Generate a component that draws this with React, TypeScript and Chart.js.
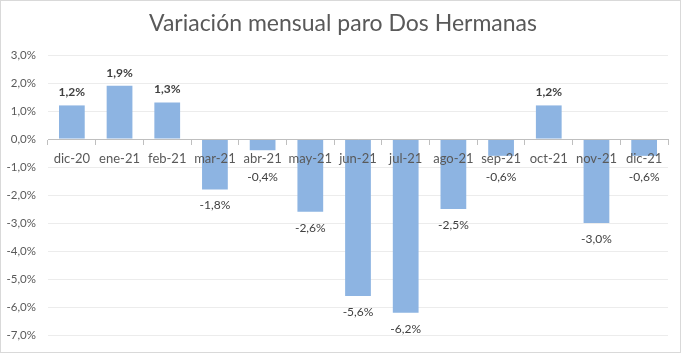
import React, { useEffect, useRef } from "react";
import { Chart, registerables } from "chart.js";

Chart.register(...registerables);

const TITLE = "Variación mensual paro Dos Hermanas";
const categories = ["dic-20", "ene-21", "feb-21", "mar-21", "abr-21", "may-21", "jun-21", "jul-21", "ago-21", "sep-21", "oct-21", "nov-21", "dic-21"];
const values = [1.2, 1.9, 1.3, -1.8, -0.4, -2.6, -5.6, -6.2, -2.5, -0.6, 1.2, -3.0, -0.6];
const yMin = -7;
const yMax = 3;
const yStep = 1;

const FONT = "Lato, 'Open Sans', sans-serif";
const fmt = (v: number) => v.toFixed(1).replace(".", ",") + "%";

const frame = {
  id: "frame",
  beforeDraw(chart: any) {
    const ctx = chart.ctx;
    ctx.save();
    ctx.fillStyle = "#ffffff";
    ctx.fillRect(0, 0, chart.width, chart.height);
    ctx.strokeStyle = "#d9d9d9";
    ctx.lineWidth = 1;
    ctx.strokeRect(0.5, 0.5, chart.width - 2, chart.height - 2);
    ctx.fillStyle = "#595959";
    ctx.font = "23px " + FONT;
    ctx.textAlign = "center";
    ctx.textBaseline = "middle";
    ctx.fillText(TITLE, chart.width / 2 + 2, 24);
    ctx.restore();
  },
};

const labels = {
  id: "valueLabels",
  afterDatasetsDraw(chart: any) {
    const ctx = chart.ctx;
    const meta = chart.getDatasetMeta(0);
    const yScale = chart.scales.y;
    const zeroY = yScale.getPixelForValue(0);
    ctx.save();
    ctx.textAlign = "center";
    ctx.textBaseline = "middle";
    meta.data.forEach((bar: any, i: number) => {
      const v = values[i];
      ctx.fillStyle = "#404040";
      if (v >= 0) {
        ctx.font = "bold 12px " + FONT;
        ctx.fillText(fmt(v), bar.x, bar.y - 13);
      } else {
        ctx.font = "12px " + FONT;
        ctx.fillText(fmt(v), bar.x, Math.max(bar.y + 16, zeroY + 38));
      }
    });
    ctx.restore();
  },
};

export default function App() {
  const ref = useRef<HTMLCanvasElement>(null);
  useEffect(() => {
    document.body.style.margin = "0";
    const chart = new Chart(ref.current!, {
      type: "bar",
      data: {
        labels: categories,
        datasets: [
          {
            data: values,
            backgroundColor: "#8db4e2",
            barPercentage: 0.54,
            categoryPercentage: 1,
          },
        ],
      },
      options: {
        animation: false,
        responsive: false,
        layout: { padding: { left: 0, right: 14, top: 55, bottom: 15 } },
        plugins: { legend: { display: false }, tooltip: { enabled: false }, title: { display: false } },
        scales: {
          x: {
            position: { y: 0 } as any,
            grid: { display: true, drawOnChartArea: false, drawTicks: true, tickLength: 5, color: "#bfbfbf", offset: true, z: 1 } as any,
            border: { display: true, color: "#bfbfbf", z: 1 } as any,
            ticks: { color: "#595959", font: { family: FONT, size: 13 }, padding: 7, maxRotation: 0, autoSkip: false, z: 1 } as any,
          },
          y: {
            min: yMin,
            max: yMax,
            grid: { color: "#ececec", drawTicks: false },
            border: { display: false },
            ticks: {
              stepSize: yStep,
              color: "#595959",
              padding: 12,
              font: { family: FONT, size: 11.5 },
              callback: (v: any) => fmt(Number(v)),
            },
            afterFit: (s: any) => {
              s.width = 48;
            },
          },
        },
      },
      plugins: [frame, labels],
    });
    return () => chart.destroy();
  }, []);
  return <canvas ref={ref} width={682} height={354} style={{ display: "block" }} />;
}
